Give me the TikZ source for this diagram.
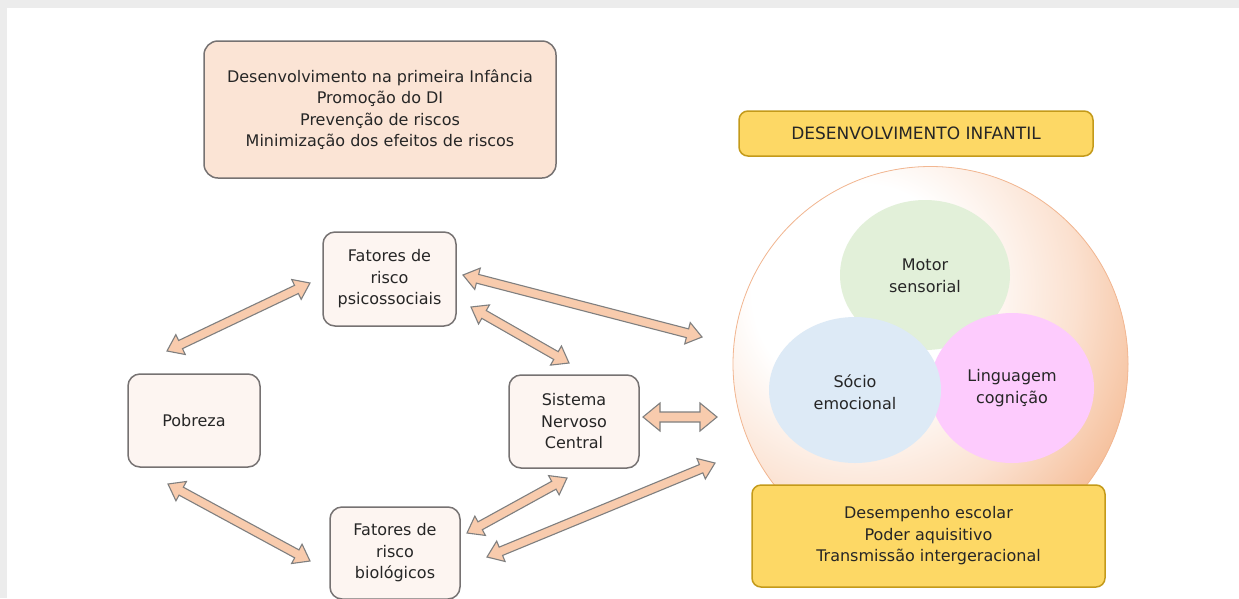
\documentclass[tikz,border=0pt]{standalone}
\usepackage{fontspec}
\setmainfont{DejaVu Sans}
\usetikzlibrary{calc}
\definecolor{bggray}{HTML}{ECECEC}
\definecolor{txt}{HTML}{262626}
\definecolor{boxline}{HTML}{767272}
\definecolor{topfill}{HTML}{FBE4D5}
\definecolor{riskfill}{HTML}{FDF5F1}
\definecolor{goldfill}{HTML}{FDD865}
\definecolor{goldline}{HTML}{C49A1A}
\definecolor{arrfill}{HTML}{F8CBAD}
\definecolor{arrline}{HTML}{7F7F7F}
\definecolor{peach}{HTML}{F4B68C}
\definecolor{palepeach}{HTML}{FBE1D0}
\definecolor{peachline}{HTML}{F2B792}
\definecolor{motorfill}{HTML}{E2F0D9}
\definecolor{lingfill}{HTML}{FDCBFD}
\definecolor{sociofill}{HTML}{DDEAF6}
\pgfdeclareradialshading{glowball}{\pgfpointorigin}{color(0bp)=(white); color(9bp)=(white); color(18bp)=(palepeach); color(27bp)=(peach); color(50bp)=(peach)}
\tikzset{
  lbl/.style={text=txt, align=center, font=\fontsize{16}{21.5}\selectfont},
  topbox/.style={lbl, draw=boxline, line width=1.5pt, fill=topfill, rounded corners=14pt},
  riskbox/.style={lbl, draw=boxline, line width=1.5pt, fill=riskfill, rounded corners=12pt},
  goldbox/.style={lbl, draw=goldline, line width=1.5pt, fill=goldfill, rounded corners=9pt},
  dbar/.style={draw=arrline, fill=arrfill, line width=1.1pt, line join=miter},
  blob/.style={lbl}
}
% #1,#2 ends; #3 head length; #4 head half width; #5 shaft half width
\newcommand\dblarrow[5]{%
  \coordinate (qa) at ($(#1)!#3!(#2)$);
  \coordinate (qb) at ($(#2)!#3!(#1)$);
  \draw[dbar] (#1) -- ($(qa)!#4!90:(#2)$) -- ($(qa)!#5!90:(#2)$)
     -- ($(qb)!#5!-90:(#1)$) -- ($(qb)!#4!-90:(#1)$) -- (#2)
     -- ($(qb)!#4!90:(#1)$) -- ($(qb)!#5!90:(#1)$)
     -- ($(qa)!#5!-90:(#2)$) -- ($(qa)!#4!-90:(#2)$) -- cycle;
}
\begin{document}
\begin{tikzpicture}[x=1pt,y=-1pt]
\useasboundingbox (0,0) rectangle (1239,598);
\fill[bggray] (0,0) rectangle (1239,598);
\fill[white] (7,8) rectangle (1239,598);

% top box
\node[topbox, minimum width=352pt, minimum height=137pt] (top) at (380,109.5)
  {Desenvolvimento na primeira Infância\\Promoção do DI\\Prevenção de riscos\\Minimização dos efeitos de riscos};

% risk boxes
\node[riskbox, minimum width=133pt, minimum height=94pt] (psico) at (389.5,279)
  {Fatores de\\risco\\psicossociais};
\node[riskbox, minimum width=132pt, minimum height=93pt] (pob) at (194,420.5) {Pobreza};
\node[riskbox, minimum width=130pt, minimum height=93pt] (snc) at (574,421.5)
  {Sistema\\Nervoso\\Central};
\node[riskbox, minimum width=130pt, minimum height=92pt] (bio) at (395,553)
  {Fatores de\\risco\\biológicos};

% right side
\node[goldbox, minimum width=354pt, minimum height=45pt, font=\fontsize{17}{21.5}\selectfont] (di) at (916,133.5)
  {DESENVOLVIMENTO INFANTIL};
\coordinate (ballc) at (930.5,364);
\coordinate (glow) at (860,292);
\begin{scope}
  \clip (ballc) circle[radius=197.5pt];
  \fill[peach] (ballc) circle[radius=200pt];
  \shade[shading=glowball] (glow) circle[radius=300pt];
\end{scope}
\draw[peachline, line width=0.8pt] (ballc) circle[radius=197.5pt];
\fill[motorfill] (925,275) ellipse[x radius=85pt, y radius=75pt];
\fill[lingfill] (1012,388) ellipse[x radius=82pt, y radius=75pt];
\fill[sociofill] (855,390) ellipse[x radius=86pt, y radius=73pt];
\node[blob] (motor) at (925,276) {Motor\\sensorial};
\node[blob] (ling) at (1012,388) {Linguagem\\cognição};
\node[blob] (socio) at (855,392) {Sócio\\emocional};
\node[goldbox, minimum width=353pt, minimum height=102pt] (res) at (928.5,536)
  {Desempenho escolar\\Poder aquisitivo\\Transmissão intergeracional};

% arrow end points
\coordinate (a1s) at (167,351);
\coordinate (a1e) at (310,283);
\coordinate (a2s) at (463,275);
\coordinate (a2e) at (702,337);
\coordinate (a3s) at (471,307);
\coordinate (a3e) at (569,363);
\coordinate (a4s) at (643,417);
\coordinate (a4e) at (717,417);
\coordinate (a5s) at (168,484);
\coordinate (a5e) at (310,561);
\coordinate (a6s) at (567,478);
\coordinate (a6e) at (467,533);
\coordinate (a7s) at (715,463);
\coordinate (a7e) at (487,557);

\dblarrow{a1s}{a1e}{15pt}{11pt}{4.5pt}
\dblarrow{a2s}{a2e}{15pt}{11pt}{4.5pt}
\dblarrow{a3s}{a3e}{15pt}{11pt}{4.5pt}
\dblarrow{a4s}{a4e}{17pt}{14pt}{5pt}
\dblarrow{a5s}{a5e}{15pt}{11pt}{4.5pt}
\dblarrow{a6s}{a6e}{15pt}{11pt}{4.5pt}
\dblarrow{a7s}{a7e}{15pt}{11pt}{4.5pt}
\end{tikzpicture}
\end{document}
